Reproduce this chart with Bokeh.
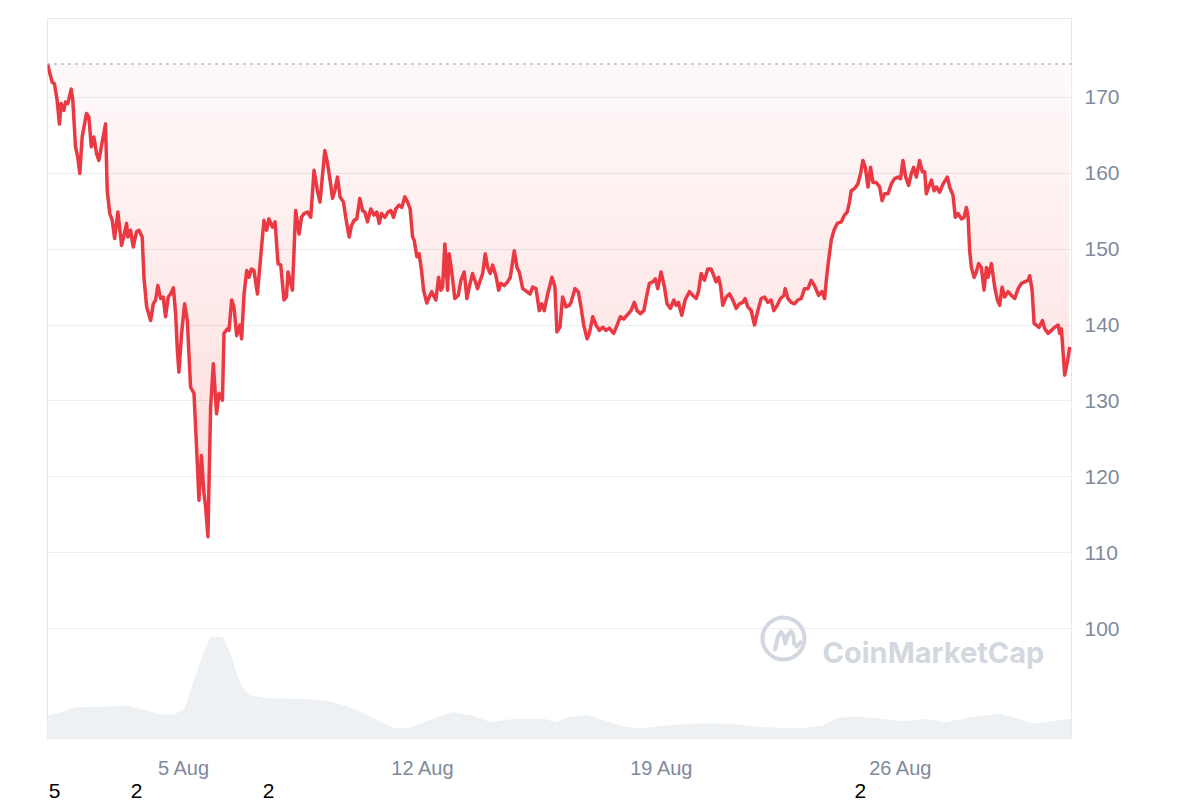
import numpy as np
from bokeh.plotting import figure
from bokeh.models import Range1d, FixedTicker, Span, Label, LinearAxis
from bokeh.embed import file_html
from bokeh.resources import INLINE

# ---------------- data ----------------
# hours since 1 Aug 00:00
hours = [0.0, 3.3, 4.9, 6.8, 8.4, 9.6, 11.5, 12.7, 14.3, 16.7, 17.8, 19.7, 21.3, 22.7, 24.4, 27.4, 29.1, 30.8, 32.6, 34.5,
         36.1, 38.9, 40.8, 42.0, 43.8, 45.5, 47.2, 49.5, 50.9, 52.1, 53.7, 55.6, 56.5, 58.4, 60.3, 62.6, 64.3, 66.6, 67.8, 69.7,
         72.5, 74.4, 76.0, 77.6, 79.5, 81.4, 83.0, 84.9, 86.6, 88.5, 90.1, 91.3, 92.4, 94.3, 96.4, 98.3, 100.6, 103.0, 104.9, 106.5,
         108.2, 110.0, 111.2, 112.8, 114.7, 116.6, 118.9, 120.6, 123.0, 124.1, 126.5, 127.6, 129.5, 131.1, 133.0, 135.3, 136.5, 138.2, 140.1, 141.7,
         143.4, 145.2, 147.6, 149.9, 152.2, 154.1, 155.7, 158.1, 160.0, 162.1, 164.0, 166.3, 168.0, 169.1, 171.0, 172.2, 174.5, 176.9, 178.6, 180.4,
         182.8, 185.1, 187.4, 189.8, 191.6, 195.0, 196.9, 198.7, 200.4, 202.0, 203.9, 205.7, 208.1, 209.7, 212.1, 213.7, 215.6, 217.5, 219.6, 221.5,
         223.1, 225.0, 227.3, 229.6, 231.6, 233.2, 234.9, 237.2, 239.5, 241.4, 243.3, 244.9, 247.2, 249.1, 251.3, 253.2, 255.0, 256.7, 257.8, 259.7,
         261.3, 263.0, 264.4, 266.7, 268.4, 270.1, 271.9, 273.1, 275.0, 276.6, 277.8, 279.4, 281.3, 282.4, 284.1, 286.4, 288.8, 290.7, 293.0, 294.9,
         296.5, 298.9, 300.5, 302.4, 304.3, 306.0, 307.8, 309.5, 311.3, 313.0, 315.3, 317.2, 318.8, 321.1, 323.5, 325.4, 328.2, 330.1, 331.7, 334.1,
         337.1, 339.4, 341.1, 343.5, 345.8, 347.5, 349.3, 351.7, 354.7, 356.8, 358.2, 360.3, 362.2, 364.6, 366.9, 368.1, 370.9, 373.2, 375.1, 377.0,
         379.4, 381.0, 383.4, 385.7, 388.0, 390.4, 392.7, 395.0, 398.1, 400.5, 402.8, 405.2, 407.5, 410.3, 412.6, 414.5, 416.9, 419.3, 421.6, 423.2,
         425.6, 427.4, 429.1, 431.4, 433.8, 435.6, 438.0, 440.4, 442.0, 443.6, 446.0, 448.3, 451.3, 453.7, 456.1, 457.7, 459.6, 461.9, 464.3, 466.6,
         468.5, 470.1, 471.8, 473.2, 474.8, 477.2, 479.5, 481.9, 484.2, 486.5, 488.9, 490.5, 492.4, 494.8, 497.1, 499.5, 501.8, 504.1, 506.5, 508.8,
         510.7, 513.1, 515.4, 517.8, 518.7, 520.6, 522.9, 525.2, 527.6, 530.0, 532.3, 534.7, 537.0, 539.3, 542.2, 544.5, 546.4, 547.6, 549.2, 551.1,
         553.0, 555.3, 558.1, 560.4, 562.3, 563.9, 565.1, 567.5, 569.8, 571.7, 573.4, 575.0, 576.9, 578.7, 580.4, 582.7, 585.1, 586.8, 588.6, 591.0,
         593.3, 595.6, 598.0, 599.8, 601.5, 603.4, 605.5, 607.4, 609.0, 610.9, 613.2, 615.1, 616.8, 617.9, 619.6, 621.5, 623.4, 625.0, 627.3, 629.7,
         632.7, 634.3, 636.7, 638.3, 640.2, 642.6, 644.5, 646.1, 647.3, 648.4, 649.6, 651.5, 653.1, 654.7, 656.6, 658.5, 660.2, 661.3, 663.7, 666.0,
         667.9, 669.5, 671.2, 673.0, 675.4, 677.8, 680.1, 682.5, 684.8, 687.1, 689.5, 690.6, 692.3, 693.7, 695.3, 697.2, 699.6, 701.2, 703.6, 705.9,
         708.2, 710.6, 711.7, 712.9, 715.2, 717.1, 718.8]

price = [174.4, 172.0, 171.8, 169.6, 166.5, 169.2, 168.3, 169.4, 169.2, 171.1, 169.6, 163.5, 162.1, 160.0, 164.8, 167.9, 167.4, 163.5, 164.8, 162.6,
         161.7, 164.6, 166.5, 157.7, 154.7, 153.8, 151.4, 154.9, 152.5, 150.5, 151.8, 153.4, 151.6, 152.5, 150.3, 152.3, 152.5, 151.6, 146.3, 142.4,
         140.6, 142.8, 143.3, 145.2, 143.5, 143.7, 141.1, 143.7, 144.1, 144.9, 141.5, 136.7, 133.8, 138.9, 142.8, 140.6, 131.8, 131.0, 123.5, 116.9,
         122.8, 117.8, 116.0, 112.1, 129.2, 134.9, 128.3, 131.0, 130.1, 138.9, 139.5, 139.3, 143.3, 142.4, 138.6, 140.0, 138.2, 144.1, 147.2, 146.3,
         147.4, 147.2, 144.1, 149.0, 153.8, 152.5, 154.0, 152.9, 153.6, 148.1, 147.9, 143.3, 143.7, 147.0, 145.5, 144.6, 155.1, 152.0, 154.2, 154.7,
         154.9, 154.2, 160.4, 157.7, 156.2, 163.0, 161.3, 159.1, 156.7, 157.7, 159.5, 156.9, 156.2, 154.2, 151.6, 153.1, 153.8, 154.0, 156.7, 155.1,
         154.9, 153.6, 155.3, 154.5, 154.9, 153.4, 154.7, 154.2, 154.9, 155.1, 154.2, 155.3, 155.8, 155.5, 156.9, 156.2, 155.3, 151.6, 151.2, 149.0,
         149.4, 147.2, 144.6, 142.9, 143.7, 144.4, 143.7, 143.3, 146.3, 144.6, 145.0, 150.7, 144.6, 149.4, 147.2, 143.5, 143.9, 145.9, 147.0, 143.5,
         145.0, 146.8, 145.9, 144.8, 145.9, 146.8, 149.4, 147.6, 146.8, 147.9, 146.5, 144.6, 145.5, 145.2, 145.7, 146.3, 149.8, 147.6, 147.0, 144.8,
         144.4, 144.1, 145.0, 144.8, 141.9, 142.8, 141.9, 144.1, 146.3, 145.0, 139.1, 139.7, 143.7, 142.4, 142.6, 143.0, 144.8, 144.4, 142.4, 140.0,
         138.2, 138.9, 141.1, 140.0, 139.3, 139.7, 139.3, 139.6, 138.9, 140.0, 141.1, 140.8, 141.3, 141.9, 143.0, 141.9, 141.5, 141.9, 144.1, 145.5,
         145.7, 146.1, 144.8, 147.0, 145.0, 142.8, 142.2, 143.3, 142.6, 143.0, 141.3, 143.3, 144.4, 143.9, 143.5, 144.4, 146.8, 145.9, 147.4, 147.4,
         146.5, 145.7, 146.3, 145.2, 142.6, 143.7, 144.1, 143.3, 142.2, 142.8, 143.0, 143.5, 142.4, 141.9, 140.0, 141.9, 143.5, 143.7, 143.0, 143.3,
         141.9, 142.6, 143.5, 143.9, 144.8, 143.5, 143.0, 142.8, 143.3, 143.5, 144.8, 144.8, 145.9, 145.2, 143.9, 144.4, 143.5, 145.9, 148.5, 151.2,
         152.5, 153.4, 153.6, 154.5, 154.9, 156.2, 157.7, 158.0, 158.6, 160.0, 161.7, 160.8, 158.2, 160.8, 158.8, 158.8, 158.2, 156.4, 157.3, 157.3,
         158.6, 159.3, 159.5, 159.3, 161.7, 159.5, 158.4, 160.0, 160.8, 159.5, 161.7, 160.2, 160.2, 157.3, 158.2, 159.1, 157.7, 158.2, 157.5, 158.6,
         159.5, 158.2, 157.1, 154.2, 154.7, 154.0, 154.2, 155.5, 154.2, 149.8, 147.6, 146.3, 147.0, 148.1, 147.6, 144.6, 147.6, 146.3, 148.1, 145.0,
         143.3, 142.6, 145.0, 143.7, 144.4, 143.9, 143.5, 144.8, 145.5, 145.7, 145.9, 146.5, 144.6, 140.2, 140.0, 139.7, 140.6, 139.5, 138.9, 139.3,
         139.7, 140.0, 138.9, 139.5, 133.4, 135.1, 137.1]

# volume (billions USD, approximate), hours since 1 Aug
vol_hours = [0.0, 9.9, 19.7, 42.2, 55.6, 66.9, 80.2, 89.4, 96.4, 101.3, 107.0, 112.6, 114.7, 123.2, 128.8, 132.3, 136.5, 142.2, 155.5,
             176.6, 195.7, 209.0, 223.1, 236.5, 244.2, 254.8, 268.8, 285.0, 298.4, 311.7, 328.0, 349.1, 357.5, 365.3, 379.4, 389.3,
             402.6, 416.0, 435.0, 459.6, 480.7, 502.5, 529.3, 545.5, 556.0, 569.4, 585.6, 601.8, 618.0, 631.3, 647.5, 669.3, 679.9,
             693.2, 709.4, 720.0]
volume = [1.84, 2.10, 2.50, 2.56, 2.64, 2.32, 1.92, 1.92, 2.40, 4.10, 6.00, 7.60, 8.16, 8.10, 6.80, 5.44, 4.24, 3.44, 3.22,
          3.18, 3.04, 2.64, 1.98, 1.20, 0.82, 0.86, 1.50, 2.10, 1.84, 1.30, 1.58, 1.58, 1.30, 1.70, 1.90, 1.55,
          1.04, 0.78, 1.04, 1.22, 1.18, 0.90, 0.82, 1.04, 1.66, 1.76, 1.58, 1.38, 1.58, 1.30, 1.66, 1.98, 1.66,
          1.18, 1.44, 1.58]

x_ticks = [96, 264, 432, 600]
x_tick_labels = ["5 Aug", "12 Aug", "19 Aug", "26 Aug"]
y_ticks = [100, 110, 120, 130, 140, 150, 160, 170]

# stray black digits seen below the date axis (hour position, text)
stray_ticks = [4.9, 62.6, 155.4, 571.6]
stray_labels = ["5", "2", "2", "2"]

# ---------------- styles ----------------
RED = "#ea3943"
GRAY_TXT = "#808a9d"
WM = "#d3d8e0"
FONT = "Liberation Sans"

Y0, Y1 = 85.5, 180.41
p = figure(width=1192, height=800, output_backend="svg", toolbar_location=None,
           x_range=Range1d(0, 720), y_range=Range1d(Y0, Y1),
           y_axis_location="right", min_border_left=47, min_border_right=121,
           min_border_top=18, min_border_bottom=62,
           background_fill_color="white", border_fill_color="white")
p.outline_line_color = "#e6e8ec"
p.outline_line_width = 1

p.extra_y_ranges = {"vol": Range1d(0, 57.6)}

# axes
p.xaxis.ticker = FixedTicker(ticks=x_ticks)
p.xaxis.major_label_overrides = {t: l for t, l in zip(x_ticks, x_tick_labels)}
p.yaxis.ticker = FixedTicker(ticks=y_ticks)

ax2 = LinearAxis(ticker=FixedTicker(ticks=stray_ticks),
                 major_label_overrides={t: l for t, l in zip(stray_ticks, stray_labels)})
p.add_layout(ax2, "below")

for ax in (p.xaxis[0], p.yaxis[0], ax2):
    ax.axis_line_color = None
    ax.major_tick_line_color = None
    ax.minor_tick_line_color = None
    ax.major_label_text_font = FONT
    ax.major_label_text_font_size = "20px"
    ax.major_label_text_color = GRAY_TXT
p.yaxis[0].major_label_text_font_size = "21px"
ax2.major_label_text_color = "black"
ax2.major_label_text_font_size = "21px"
ax2.major_label_standoff = -4
p.xaxis[0].major_label_standoff = 12
p.yaxis.major_label_standoff = 7

p.xgrid.grid_line_color = None
p.ygrid.ticker = FixedTicker(ticks=y_ticks)
p.ygrid.grid_line_color = "#eceef1"
p.ygrid.grid_line_width = 1

# volume area
p.varea(x=vol_hours, y1=0, y2=volume, y_range_name="vol", fill_color="#eef1f4", fill_alpha=1)

# gradient-like fill between price and the opening price
h = np.array(hours)
pr = np.array(price)
base = price[0]
levels = np.arange(base, 108, -2.0)
for i, L in enumerate(levels):
    y1 = np.minimum(pr, L)
    p.varea(x=h, y1=y1, y2=np.full_like(pr, L), fill_color=RED,
            fill_alpha=0.03 if i == 0 else 0.0055)

# dotted opening price line
p.add_layout(Span(location=base, dimension="width", line_color="#9aa1ad",
                  line_dash="2 5", line_width=1.5))

# price line
p.line(h, pr, line_color=RED, line_width=3.5, line_join="round")

# watermark (decoration)
PX_H = 720 / 1024
PX_V = (Y1 - Y0) / 720
cx, cy = (783 - 47) * PX_H, Y1 - (638 - 18) * PX_V
p.scatter(x=[cx], y=[cy], marker="circle", size=42, fill_alpha=0, line_color=WM, line_width=4)
mdx = [-8.5, -5.5, -2.5, 0.0, 1.8, 4.5, 7.5, 10.0, 10.5, 13.5, 17.0]
mdy = [11.0, -2.0, -6.5, -3.0, 5.0, -3.5, -7.5, -3.0, 5.0, 8.0, 3.5]
p.line([cx + d * PX_H for d in mdx], [cy - d * PX_V for d in mdy], line_color=WM,
       line_width=4, line_join="round", line_cap="round")
p.add_layout(Label(x=(822 - 47) * PX_H, y=Y1 - (652 - 18) * PX_V, text="CoinMarketCap",
                   text_font="Inter", text_font_style="bold", text_font_size="29px",
                   text_color=WM, text_baseline="alphabetic", text_align="left"))

open("out.html", "w").write(file_html(p, INLINE))
